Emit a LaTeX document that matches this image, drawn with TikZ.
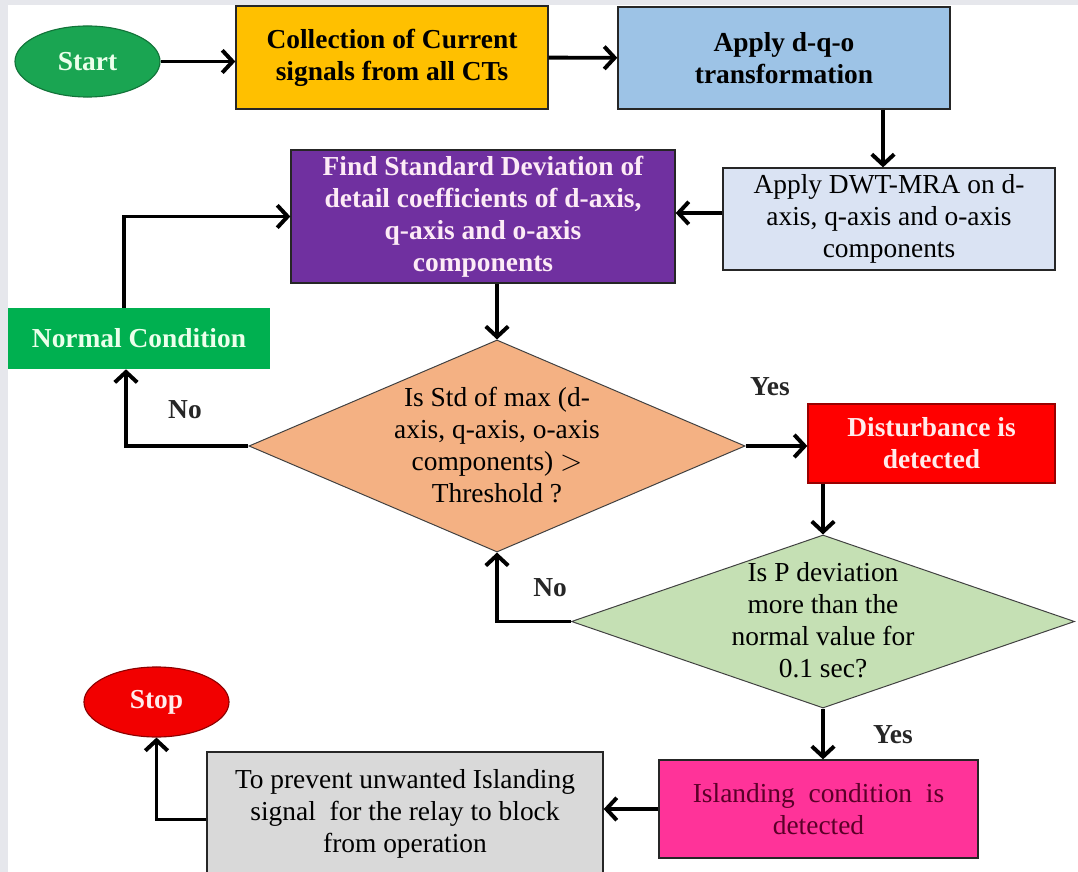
\documentclass[tikz,border=0pt]{standalone}
\usepackage{fontspec}
\setmainfont{Liberation Serif}
\usepackage{xcolor}
\usetikzlibrary{shapes.geometric, arrows.meta, positioning}

\definecolor{framegray}{HTML}{E6E7EC}
\definecolor{startgreen}{HTML}{1AA552}
\definecolor{collectfill}{HTML}{FFC000}
\definecolor{dqofill}{HTML}{9DC3E6}
\definecolor{dwtfill}{HTML}{DAE3F3}
\definecolor{findfill}{HTML}{7030A0}
\definecolor{normalfill}{HTML}{00B050}
\definecolor{dec1fill}{HTML}{F4B183}
\definecolor{dec2fill}{HTML}{C5E0B4}
\definecolor{islandfill}{HTML}{FF3399}
\definecolor{islandtext}{HTML}{5A0028}
\definecolor{preventfill}{HTML}{D9D9D9}
\definecolor{stopred}{HTML}{F20000}

\tikzset{
  txt/.style={font=\fontsize{19.5}{22.7}\selectfont, align=center, inner sep=0pt},
  btxt/.style={font=\bfseries\fontsize{19.5}{22.7}\selectfont, align=center, inner sep=0pt},
  terminal/.style={ellipse, btxt, line width=0.8pt, minimum width=3.625cm, minimum height=1.775cm},
  process/.style={rectangle, draw=black!85, line width=0.9pt},
  decision/.style={diamond, draw=black!75, line width=0.7pt, txt, inner sep=0pt},
  flow/.style={line width=2.8pt, -{Straight Barb[length=2.6mm, width=5.6mm]}},
  answer/.style={btxt, text=black!85}
}
\newcommand{\dtext}[1]{\smash{\makebox[0pt]{\raisebox{-0.23cm}{\begin{tabular}{@{}c@{}}#1\end{tabular}}}}}

\begin{document}
\begin{tikzpicture}[x=0.025cm, y=0.025cm]
\fill[framegray] (0,0) rectangle (1078,-872);
\fill[white] (8,-5) rectangle (1078,-872);
\useasboundingbox (0,0) rectangle (1078,-872);

% top row
\node[terminal, fill=startgreen, draw=startgreen!70!black, text=green!8] (start) at (87.5,-61.5) {Start};
\node[process, btxt, fill=collectfill, minimum width=7.8cm, minimum height=2.575cm] (collect) at (392,-57.5) {Collection of Current\\signals from all CTs};
\node[process, btxt, fill=dqofill, minimum width=8.3cm, minimum height=2.55cm] (dqo) at (784,-58) {Apply d-q-o\\transformation};

% second row
\node[process, txt, fill=dwtfill, minimum width=8.3cm, minimum height=2.55cm] (dwt) at (889,-219) {Apply DWT-MRA on d-\\axis, q-axis and o-axis\\components};
\node[process, btxt, fill=findfill, text=white!92!magenta, minimum width=9.6cm, minimum height=3.325cm] (find) at (483,-216.5) {Find Standard Deviation of\\detail coefficients of d-axis,\\q-axis and o-axis\\components};
\node[rectangle, btxt, fill=normalfill, text=white!92!green, minimum width=6.55cm, minimum height=1.525cm] (normal) at (139,-338.5) {Normal Condition};

% decisions
\node[decision, fill=dec1fill, minimum width=12.4cm, minimum height=5.3cm] (dec1) at (497,-446) {\dtext{Is Std of max (d-\\axis, q-axis, o-axis\\components) $>$\\Threshold ?}};
\node[process, btxt, fill=red, draw=red!60!black, text=white!92!red, minimum width=6.175cm, minimum height=1.975cm] (disturb) at (931.5,-443.5) {Disturbance is\\detected};
\node[decision, fill=dec2fill, minimum width=12.575cm, minimum height=4.325cm] (dec2) at (823,-621.5) {\dtext{Is P deviation\\more than the\\normal value for\\0.1 sec?}};

% bottom row
\node[process, txt, fill=islandfill, text=islandtext, minimum width=7.975cm, minimum height=2.45cm] (island) at (818.5,-809) {Islanding~ condition~ is\\detected};
\node[process, txt, fill=preventfill, minimum width=9.9cm, minimum height=3.075cm] (prevent) at (405,-813.5) {To prevent unwanted Islanding\\signal~ for the relay to block\\from operation};
\node[terminal, fill=stopred, draw=red!55!black, text=white!92!red, minimum height=1.75cm] (stop) at (156.5,-702) {Stop};

% yes / no
\node[answer] (no1) at (185,-410) {No};
\node[answer] (yes1) at (770,-387) {Yes};
\node[answer] (no2) at (550,-588) {No};
\node[answer] (yes2) at (893,-735) {Yes};

% connectors
\draw[flow] (start.east) -- (start.east -| collect.west);
\draw[flow] (collect) -- (dqo);
\draw[flow] ([xshift=-0.15cm]dwt.north |- dqo.south) -- ([xshift=-0.15cm]dwt.north);
\draw[flow] ([yshift=0.15cm]dwt.west) -- ([yshift=0.15cm]dwt.west -| find.east);
\draw[flow] (dec1.north |- find.south) -- (dec1.north);
\draw[flow] ([xshift=-0.375cm]normal.north) |- (find.west);
\draw[flow] (dec1.west) -| ([xshift=-0.325cm]normal.south);
\draw[flow] (dec1.east) -- (dec1.east -| disturb.west);
\draw[flow] (disturb.south -| dec2.north) -- (dec2.north);
\draw[flow] (dec2.west) -| (dec1.south);
\draw[flow] (dec2.south) -- (dec2.south |- island.north);
\draw[flow] (island.west) -- (island.west -| prevent.east);
\draw[flow] ([yshift=-0.15cm]prevent.west) -| (stop.south);
\end{tikzpicture}
\end{document}
